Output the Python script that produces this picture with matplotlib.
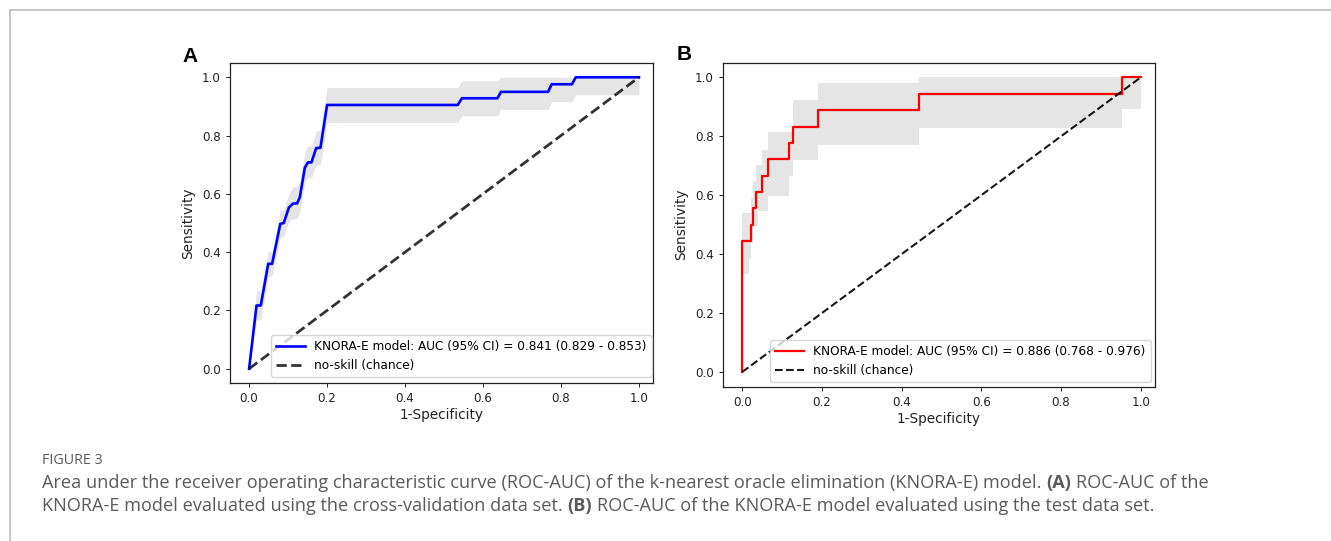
"""
ROC-AUC of the KNORA-E model: (A) cross-validation mean curve with a
+/- 1 std band, (B) test-set curve with a bootstrap CI band.
Saves out.png.
"""

import matplotlib
matplotlib.use('Agg')
import matplotlib.pyplot as plt
from matplotlib.lines import Line2D


# ============================ Data ============================
# Panel A: cross-validation, mean ROC (interpolated) and its band
FPR_A = [0.000, 0.019, 0.030, 0.049, 0.059, 0.080, 0.089, 0.102, 0.113,
         0.123, 0.130, 0.143, 0.151, 0.160, 0.172, 0.183, 0.200, 0.535,
         0.546, 0.637, 0.646, 0.767, 0.776, 0.828, 0.838, 1.000]
TPR_A = [0.000, 0.217, 0.217, 0.360, 0.360, 0.497, 0.500, 0.553, 0.567,
         0.567, 0.588, 0.690, 0.708, 0.708, 0.757, 0.758, 0.905, 0.905,
         0.928, 0.928, 0.950, 0.950, 0.976, 0.976, 1.000, 1.000]
TPR_A_LOW = [0.000, 0.165, 0.170, 0.315, 0.320, 0.450, 0.455, 0.505, 0.515,
             0.515, 0.535, 0.640, 0.655, 0.655, 0.700, 0.700, 0.845, 0.845,
             0.868, 0.868, 0.890, 0.890, 0.916, 0.916, 0.940, 0.940]
TPR_A_HIGH = [0.000, 0.270, 0.265, 0.405, 0.400, 0.545, 0.545, 0.600, 0.625,
              0.625, 0.640, 0.745, 0.765, 0.765, 0.815, 0.820, 0.965, 0.965,
              0.988, 0.988, 1.000, 1.000, 1.000, 1.000, 1.000, 1.000]
LABEL_A = 'KNORA-E model: AUC (95% CI) = 0.841 (0.829 - 0.853)'

# Panel B: test set, step ROC and CI band (steps-post)
FPR_B = [0.000, 0.000, 0.022, 0.028, 0.035, 0.049, 0.064, 0.118, 0.128,
         0.190, 0.443, 0.953, 1.000]
TPR_B = [0.000, 0.444, 0.500, 0.556, 0.611, 0.667, 0.722, 0.778, 0.833,
         0.889, 0.944, 1.000, 1.000]
BAND_X_B = [0.000, 0.016, 0.022, 0.028, 0.035, 0.040, 0.049, 0.064, 0.118,
            0.128, 0.190, 0.443, 0.953, 1.000]
BAND_LOW_B = [0.331, 0.382, 0.439, 0.495, 0.495, 0.546, 0.546, 0.597, 0.664,
              0.721, 0.772, 0.828, 0.893, 0.893]
BAND_HIGH_B = [0.540, 0.540, 0.591, 0.647, 0.704, 0.704, 0.755, 0.814, 0.814,
               0.924, 0.981, 1.000, 1.000, 1.000]
LABEL_B = 'KNORA-E model: AUC (95% CI) = 0.886 (0.768 - 0.976)'

CHANCE_LABEL = 'no-skill (chance)'
TICKS = [0.0, 0.2, 0.4, 0.6, 0.8, 1.0]

CAPTION_HEAD = 'FIGURE 3'
CAPTION_LINES = [
    [('Area under the receiver operating characteristic curve (ROC-AUC) of the '
      'k-nearest oracle elimination (KNORA-E) model.', 'normal'),
     ('(A)', 'bold'), ('ROC-AUC of the', 'normal')],
    [('KNORA-E model evaluated using the cross-validation data set.', 'normal'),
     ('(B)', 'bold'),
     ('ROC-AUC of the KNORA-E model evaluated using the test data set.', 'normal')],
]

# ============================ Layout ============================
W, H = 1331, 541
DPI = 100
TEXT_COL = '#222222'
CAPTION_COL = '#5a5a5a'
TICK_FS = 8.6
LABEL_FS = 9.8
LEGEND_FS = 8.7
CAPTION_FS = 13.1


def px_box(left, top, right, bottom):
    return [left / W, 1 - bottom / H, (right - left) / W, (bottom - top) / H]


def style_axes(ax):
    ax.set_xlim(-0.049, 1.036)
    ax.set_ylim(-0.05, 1.05)
    ax.set_xticks(TICKS)
    ax.set_yticks(TICKS)
    ax.tick_params(labelsize=TICK_FS, colors=TEXT_COL, length=3, width=0.7)
    for s in ax.spines.values():
        s.set_linewidth(0.9)
        s.set_color(TEXT_COL)
    ax.set_xlabel('1-Specificity', fontsize=LABEL_FS, color=TEXT_COL, labelpad=2)
    ax.set_ylabel('Sensitivity', fontsize=LABEL_FS, color=TEXT_COL, labelpad=5)


def plot_panel_a(ax):
    ax.fill_between(FPR_A, TPR_A_LOW, TPR_A_HIGH, color='grey', alpha=0.2, lw=0)
    ax.plot(FPR_A, TPR_A, color='b', lw=1.9, label=LABEL_A)
    ax.plot([0, 1], [0, 1], 'k--', lw=2.0, alpha=0.8, label=CHANCE_LABEL)
    style_axes(ax)
    ax.legend(loc='lower right', bbox_to_anchor=(0.997, 0.02), borderaxespad=0,
              fontsize=LEGEND_FS, handlelength=2.4)


def plot_panel_b(ax):
    ax.fill_between(BAND_X_B, BAND_LOW_B, BAND_HIGH_B, step='post',
                    color='grey', alpha=0.2, lw=0)
    ax.plot(FPR_B, TPR_B, color='r', lw=1.6, drawstyle='steps-post', label=LABEL_B)
    ax.plot([0, 1], [0, 1], 'k--', lw=1.5, alpha=0.9, label=CHANCE_LABEL)
    style_axes(ax)
    ax.legend(loc='lower right', bbox_to_anchor=(0.99, 0.015), borderaxespad=0,
              fontsize=LEGEND_FS, handlelength=2.4)


def add_caption(fig):
    renderer = fig.canvas.get_renderer()
    fig.text(42 / W, 1 - 464 / H, CAPTION_HEAD, fontsize=10.3, color=CAPTION_COL,
             family='Open Sans', va='baseline')

    def width(txt, weight):
        t = fig.text(0, 0, txt, fontsize=CAPTION_FS, family='Open Sans', fontweight=weight)
        w = t.get_window_extent(renderer).width
        t.remove()
        return w

    space = width('a a', 'normal') - width('aa', 'normal')
    for i, parts in enumerate(CAPTION_LINES):
        x = 42.0
        y = 1 - (488 + 23 * i) / H
        for txt, weight in parts:
            t = fig.text(x / W, y, txt, fontsize=CAPTION_FS, family='Open Sans',
                         fontweight=weight, color=CAPTION_COL, va='baseline')
            x += t.get_window_extent(renderer).width + space


def main():
    fig = plt.figure(figsize=(W / DPI, H / DPI), dpi=DPI)

    ax_a = fig.add_axes(px_box(230, 62.7, 653, 383.3))
    ax_b = fig.add_axes(px_box(722.7, 62.7, 1155, 386.7))
    plot_panel_a(ax_a)
    plot_panel_b(ax_b)

    fig.text(190 / W, 1 - 57 / H, 'A', fontsize=15, fontweight='bold',
             family='Liberation Sans', ha='center', va='center')
    fig.text(684 / W, 1 - 55 / H, 'B', fontsize=15, fontweight='bold',
             family='Liberation Sans', ha='center', va='center')

    # page frame (top and left rule)
    fig.add_artist(Line2D([10 / W, 1], [1 - 10 / H] * 2, color='#bdbdbd', lw=1.2))
    fig.add_artist(Line2D([10 / W] * 2, [0, 1 - 10 / H], color='#bdbdbd', lw=1.2))

    add_caption(fig)
    fig.savefig('out.png', dpi=DPI)
    plt.close(fig)


if __name__ == '__main__':
    main()
